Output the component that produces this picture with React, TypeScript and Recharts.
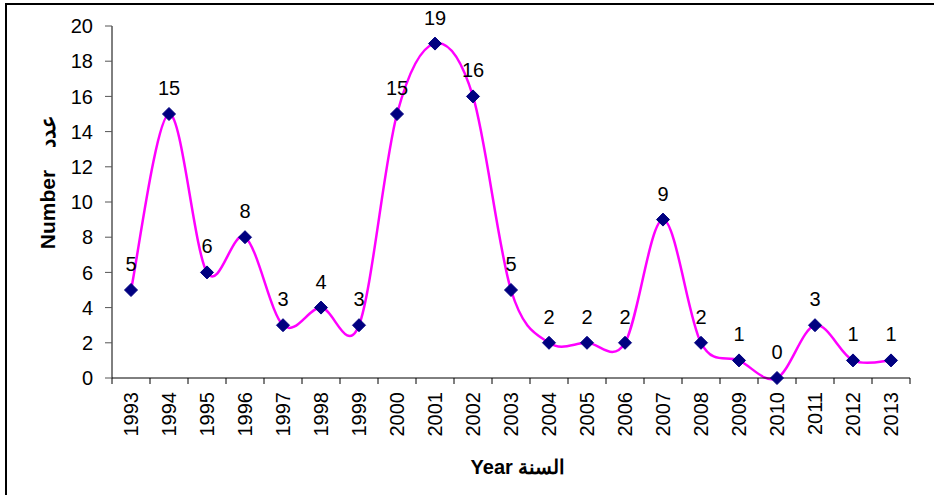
import React from 'react';
import { LineChart, Line, XAxis, YAxis, LabelList } from 'recharts';

const years = ['1993', '1994', '1995', '1996', '1997', '1998', '1999', '2000', '2001', '2002', '2003',
  '2004', '2005', '2006', '2007', '2008', '2009', '2010', '2011', '2012', '2013'];
const counts = [5, 15, 6, 8, 3, 4, 3, 15, 19, 16, 5, 2, 2, 2, 9, 2, 1, 0, 3, 1, 1];
const yTicks = [0, 2, 4, 6, 8, 10, 12, 14, 16, 18, 20];

const W = 934;
const H = 495;
const LEFT = 112;
const RIGHT = 24;
const TOP = 26;
const BOTTOM = 117;
const AXIS_Y = H - BOTTOM;
const BAND = (W - LEFT - RIGHT) / years.length;
const FONT = '"Liberation Sans", Arial, sans-serif';

const data = years.map((year, i) => ({ year, count: counts[i] }));

// Excel-like smoothed line (Catmull-Rom through the points)
function smoothCurve(context: any) {
  let pts: number[][] = [];
  return {
    areaStart() {},
    areaEnd() {},
    lineStart() {
      pts = [];
    },
    point(x: number, y: number) {
      pts.push([+x, +y]);
    },
    lineEnd() {
      if (!pts.length) return;
      context.moveTo(pts[0][0], pts[0][1]);
      const t = 1 / 6;
      for (let i = 0; i < pts.length - 1; i++) {
        const p0 = pts[i - 1] || pts[i];
        const p1 = pts[i];
        const p2 = pts[i + 1];
        const p3 = pts[i + 2] || p2;
        context.bezierCurveTo(
          p1[0] + (p2[0] - p0[0]) * t,
          p1[1] + (p2[1] - p0[1]) * t,
          p2[0] - (p3[0] - p1[0]) * t,
          p2[1] - (p3[1] - p1[1]) * t,
          p2[0],
          p2[1]
        );
      }
    },
  };
}

const Diamond = (props: any) => {
  const { cx, cy } = props;
  if (cx == null || cy == null) return null;
  const r = 6.5;
  return (
    <polygon
      points={`${cx},${cy - r} ${cx + r},${cy} ${cx},${cy + r} ${cx - r},${cy}`}
      fill="#000080"
      stroke="#000080"
    />
  );
};

const YearTick = (props: any) => {
  const { x, payload, index } = props;
  const ty = AXIS_Y + 14;
  return (
    <g>
      <line x1={x - BAND / 2} x2={x - BAND / 2} y1={AXIS_Y} y2={AXIS_Y + 6} stroke="#000" />
      {index === years.length - 1 && (
        <line x1={x + BAND / 2} x2={x + BAND / 2} y1={AXIS_Y} y2={AXIS_Y + 6} stroke="#000" />
      )}
      <text
        x={x}
        y={ty}
        transform={`rotate(-90, ${x}, ${ty})`}
        textAnchor="end"
        dominantBaseline="central"
        fontSize={20}
        fontFamily={FONT}
        fill="#000"
      >
        {payload.value}
      </text>
    </g>
  );
};

export default function App() {
  return (
    <div style={{ position: 'absolute', left: 0, top: 0, width: W, height: H, background: '#fff', overflow: 'hidden' }}>
      <div
        style={{
          position: 'absolute',
          left: 5,
          top: 3,
          width: W + 20,
          height: H + 20,
          border: '2px solid #000',
          boxSizing: 'border-box',
        }}
      />
      <LineChart
        width={W}
        height={H}
        data={data}
        margin={{ top: TOP, right: RIGHT, left: LEFT - 60, bottom: BOTTOM - 60 }}
      >
        <XAxis
          dataKey="year"
          type="category"
          scale="point"
          padding={{ left: BAND / 2, right: BAND / 2 }}
          height={60}
          interval={0}
          tickLine={false}
          axisLine={{ stroke: '#000' }}
          tick={<YearTick />}
        />
        <YAxis
          width={60}
          domain={[0, 20]}
          ticks={yTicks}
          interval={0}
          tickSize={7}
          tickMargin={12}
          axisLine={{ stroke: '#000' }}
          tickLine={{ stroke: '#555' }}
          tick={{ fill: '#000', fontSize: 20, fontFamily: FONT }}
        />
        <Line
          dataKey="count"
          type={smoothCurve as any}
          stroke="#FF00FF"
          strokeWidth={2.5}
          dot={<Diamond />}
          activeDot={false}
          isAnimationActive={false}
        >
          <LabelList
            dataKey="count"
            position="top"
            offset={19}
            fill="#000"
            fontSize={20}
            fontFamily={FONT}
          />
        </Line>
      </LineChart>
      <div
        style={{
          position: 'absolute',
          left: 48,
          top: 182,
          transform: 'translate(-50%, -50%) rotate(-90deg)',
          whiteSpace: 'nowrap',
          fontFamily: FONT,
          fontWeight: 'bold',
          fontSize: 21,
          color: '#000',
        }}
      >
        <span>Number</span>
        <span style={{ marginLeft: 22 }}>عدد</span>
      </div>
      <div
        style={{
          position: 'absolute',
          left: 518,
          top: 467,
          transform: 'translate(-50%, -50%)',
          whiteSpace: 'nowrap',
          fontFamily: FONT,
          fontWeight: 'bold',
          fontSize: 20,
          color: '#000',
        }}
      >
        Year السنة
      </div>
    </div>
  );
}
